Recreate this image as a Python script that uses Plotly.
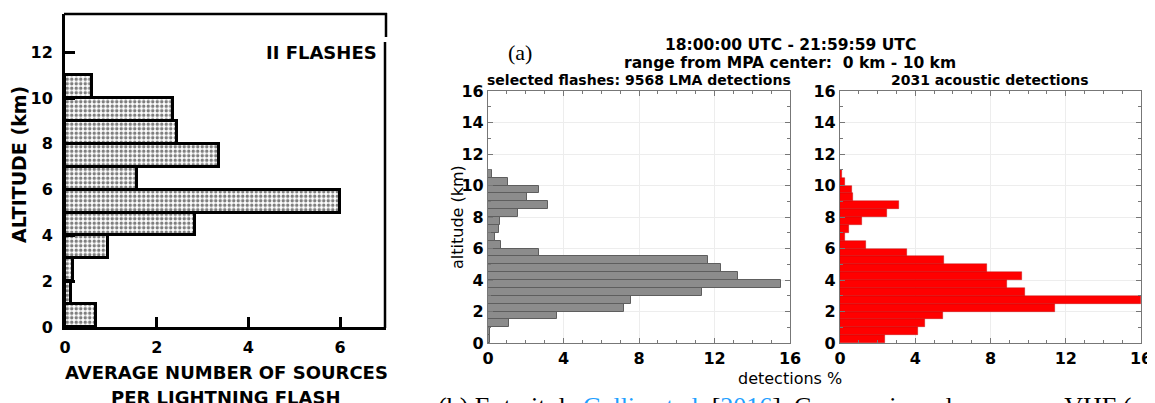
import plotly.graph_objects as go

# Page is rendered with the browser's default 8px body margin, so the figure
# is sized to the visible area and positions are given in page pixels.
PAGE_OFF = 8
W, H = 1155 - PAGE_OFF, 403 - PAGE_OFF


def px(x):
    return (x - PAGE_OFF) / W


def py(y):
    return 1 - (y - PAGE_OFF) / H


# ---------------- data ----------------
# Left panel (old histogram, 1 km bins, lower edges)
old_alt_bins_km = [0, 1, 2, 3, 4, 5, 6, 7, 8, 9, 10]
old_sources_per_flash = [0.67, 0.12, 0.17, 0.93, 2.83, 6.0, 1.58, 3.35, 2.45, 2.36, 0.58]
old_x_ticks = [0, 2, 4, 6]
old_y_ticks = [0, 2, 4, 6, 8, 10, 12]

# Right panels (0.5 km bins, lower edges)
alt_bins_km = [0.0, 0.5, 1.0, 1.5, 2.0, 2.5, 3.0, 3.5, 4.0, 4.5, 5.0,
               5.5, 6.0, 6.5, 7.0, 7.5, 8.0, 8.5, 9.0, 9.5, 10.0, 10.5]
lma_pct = [0.10, 0.12, 1.10, 3.65, 7.20, 7.60, 11.35, 15.50, 13.25, 12.35, 11.65,
           2.70, 0.70, 0.35, 0.57, 0.65, 1.57, 3.20, 2.05, 2.70, 1.08, 0.20]
acoustic_pct = [2.40, 4.13, 4.50, 5.45, 11.43, 16.0, 9.83, 8.86, 9.70, 7.80, 5.55,
                3.54, 1.36, 0.27, 0.48, 1.15, 2.48, 3.14, 0.70, 0.62, 0.27, 0.09]
pct_ticks = [0, 4, 8, 12, 16]
alt_ticks = [0, 2, 4, 6, 8, 10, 12, 14, 16]

fig = go.Figure()

# Left stippled histogram
fig.add_trace(go.Bar(
    x=old_sources_per_flash, y=old_alt_bins_km, orientation="h",
    width=1, offset=0, xaxis="x", yaxis="y",
    marker=dict(color="white", line=dict(color="black", width=3),
                pattern=dict(shape=".", fgcolor="black", bgcolor="white",
                             size=4.5, solidity=0.45)),
    showlegend=False, hoverinfo="skip",
))

# LMA gray histogram
fig.add_trace(go.Bar(
    x=lma_pct, y=alt_bins_km, orientation="h", width=0.5, offset=0,
    xaxis="x2", yaxis="y2",
    marker=dict(color="#8c8c8c", line=dict(color="#5e5e5e", width=1)),
    showlegend=False, hoverinfo="skip",
))

# Acoustic red histogram
fig.add_trace(go.Bar(
    x=acoustic_pct, y=alt_bins_km, orientation="h", width=0.5, offset=0,
    xaxis="x3", yaxis="y3",
    marker=dict(color="#ff0000", line=dict(color="rgba(170,0,0,0.6)", width=0.6)),
    showlegend=False, hoverinfo="skip",
))

bold16 = dict(family="DejaVu Sans", size=16, color="black", weight="bold")

left_x = dict(domain=[px(65), px(386)], range=[0, 7], anchor="y",
              tickmode="array", tickvals=old_x_ticks, ticks="inside", ticklen=10,
              tickwidth=2.5, tickcolor="black", showline=True, linewidth=3,
              linecolor="black", showgrid=False, zeroline=False, automargin=False,
              tickfont=bold16, ticklabelstandoff=4, fixedrange=True)
left_y = dict(domain=[py(327), py(14)], range=[0, 13.67], anchor="x",
              tickmode="array", tickvals=old_y_ticks, ticks="inside", ticklen=10,
              tickwidth=2.5, tickcolor="black", showline=True, linewidth=3,
              linecolor="black", showgrid=False, zeroline=False, automargin=False,
              tickfont=bold16, ticklabelstandoff=6, fixedrange=True)


def rx(dom, anchor):
    return dict(domain=dom, range=[0, 16], anchor=anchor, automargin=False,
                tickmode="array", tickvals=pct_ticks, ticks="inside", ticklen=5,
                tickwidth=1, tickcolor="#777777", showline=True, linewidth=1.3,
                linecolor="#777777", mirror="allticks", showgrid=True,
                gridcolor="#ededed", gridwidth=1, zeroline=False,
                tickfont=bold16, ticklabelstandoff=1,
                minor=dict(tickmode="linear", tick0=0, dtick=1, ticks="inside",
                           ticklen=3, tickcolor="#777777", showgrid=False))


def ry(dom, anchor):
    return dict(domain=dom, range=[0, 16], anchor=anchor, automargin=False,
                tickmode="array", tickvals=alt_ticks, ticks="inside", ticklen=5,
                tickwidth=1, tickcolor="#777777", showline=True, linewidth=1.3,
                linecolor="#777777", mirror="allticks", showgrid=True,
                gridcolor="#ededed", gridwidth=1, zeroline=False,
                tickfont=bold16, ticklabelstandoff=0,
                minor=dict(tickmode="linear", tick0=0, dtick=1, ticks="inside",
                           ticklen=3, tickcolor="#777777", showgrid=False))


ydom = [py(343), py(91)]

annotations = [
    dict(text="II FLASHES", x=px(321), y=py(52), font=dict(family="DejaVu Sans", size=18, color="black", weight="bold")),
    dict(text="ALTITUDE (km)", x=px(19), y=py(165), textangle=-90,
         font=dict(family="DejaVu Sans", size=19, color="black", weight="bold")),
    dict(text="AVERAGE NUMBER OF SOURCES", x=px(226), y=py(372),
         font=dict(family="DejaVu Sans", size=18, color="black", weight="bold")),
    dict(text="PER LIGHTNING FLASH", x=px(226), y=py(397),
         font=dict(family="DejaVu Sans", size=18, color="black", weight="bold")),
    dict(text="(a)", x=px(520), y=py(52), font=dict(family="Liberation Serif", size=22, color="black")),
    dict(text="18:00:00 UTC - 21:59:59 UTC", x=px(790), y=py(45),
         font=dict(family="DejaVu Sans", size=15.5, color="black", weight="bold")),
    dict(text="range from MPA center:  0 km - 10 km", x=px(790), y=py(63),
         font=dict(family="DejaVu Sans", size=15.5, color="black", weight="bold")),
    dict(text="selected flashes: 9568 LMA detections", x=px(639), y=py(80),
         font=dict(family="DejaVu Sans", size=14, color="black", weight="bold")),
    dict(text="2031 acoustic detections", x=px(990), y=py(80),
         font=dict(family="DejaVu Sans", size=14, color="black", weight="bold")),
    dict(text="detections %", x=px(790), y=py(378),
         font=dict(family="DejaVu Sans", size=16, color="black")),
    dict(text="altitude (km)", x=px(457), y=py(217), textangle=-90,
         font=dict(family="DejaVu Sans", size=16, color="black")),
    dict(text=("(b) Extrait de <span style='color:#1ea0ff'>Gallin et al.</span> "
               "[<span style='color:#1ea0ff'>2016</span>]. Comparaison des sources VHF ("),
         x=px(436), y=py(390), xanchor="left", yanchor="top",
         font=dict(family="Liberation Serif", size=26, color="black")),
]
for a in annotations:
    a.setdefault("xref", "paper")
    a.setdefault("yref", "paper")
    a.setdefault("showarrow", False)
    a.setdefault("xanchor", "center")
    a.setdefault("yanchor", "middle")

shapes = [
    dict(type="line", xref="paper", yref="paper", x0=px(64), x1=px(387), y0=py(14), y1=py(14),
         line=dict(color="black", width=2.5)),
    dict(type="line", xref="paper", yref="paper", x0=px(386), x1=px(386), y0=py(13), y1=py(37),
         line=dict(color="black", width=2.5)),
    dict(type="line", xref="paper", yref="paper", x0=px(385), x1=px(385), y0=py(42), y1=py(328),
         line=dict(color="black", width=2.5)),
]

fig.update_layout(
    width=W, height=H,
    margin=dict(l=0, r=0, t=0, b=0, pad=0, autoexpand=False),
    paper_bgcolor="white", plot_bgcolor="white",
    xaxis=left_x, yaxis=left_y,
    xaxis2=rx([px(488), px(790)], "y2"), yaxis2=ry(ydom, "x2"),
    xaxis3=rx([px(840), px(1141)], "y3"), yaxis3=ry(ydom, "x3"),
    annotations=annotations, shapes=shapes,
    bargap=0, showlegend=False,
)

fig.write_html("out.html")
